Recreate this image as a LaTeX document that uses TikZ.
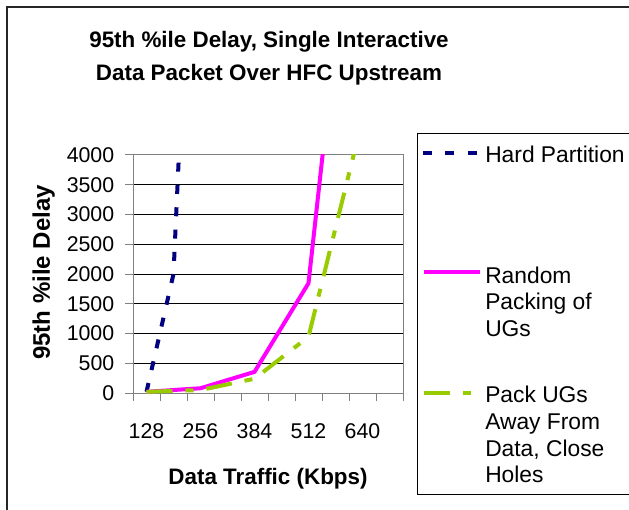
\documentclass[tikz,border=0pt]{standalone}
\usepackage{fontspec}
\setmainfont{Liberation Sans}
\usetikzlibrary{positioning}
\definecolor{hardblue}{RGB}{0,0,128}
\definecolor{randpink}{RGB}{255,0,255}
\definecolor{packgreen}{RGB}{153,204,0}
\definecolor{axisgray}{RGB}{128,128,128}
\tikzset{
  charttitle/.style={font=\bfseries\fontsize{16.8}{24.75}\selectfont,align=center,inner sep=0pt},
  ticklabel/.style={font=\fontsize{16}{19}\selectfont,inner sep=0pt},
  axistitle/.style={font=\bfseries\fontsize{16.8}{20}\selectfont,inner sep=0pt},
  legendtext/.style={font=\fontsize{17.1}{20}\selectfont,align=left,inner sep=0pt},
  gridline/.style={black,line width=0.75pt},
  axisline/.style={axisgray,line width=0.75pt},
  hardline/.style={hardblue,line width=3pt,dash pattern=on 6.75pt off 10pt},
  randline/.style={randpink,line width=3pt},
  packline/.style={packgreen,line width=3pt,dash pattern=on 19.5pt off 9.75pt on 6pt off 9.75pt}
}

\begin{document}
\begin{tikzpicture}[x=0.75pt,y=-0.75pt]
\useasboundingbox (0,0) rectangle (629,510);
\draw[line width=1.2pt,black!85] (7,7) rectangle (660,540);
\node[charttitle,anchor=north] (title) at (269,30.7) {95th \%ile Delay, Single Interactive\\Data Packet Over HFC Upstream};

% grid, frame and ticks (picture pixels)
\foreach \k in {1,...,7}
  \draw[gridline] (133,{393-29.75*\k}) -- (403,{393-29.75*\k});
\draw[axisline] (133,155) rectangle (403,393);
\foreach \k in {0,...,8}
  \draw[axisline] (125,{393-29.75*\k}) -- (133,{393-29.75*\k});
\foreach \c in {0,...,10}
  \draw[axisline] ({133+27*\c},393) -- ({133+27*\c},401);

% tick labels
\foreach \d [count=\k from 0] in {0,500,...,4000}
  \node[ticklabel,anchor=east] (y\d) at (114.5,{393-29.75*\k}) {\d};
\foreach \v [count=\i] in {128,256,384,512,640}
  \node[ticklabel,anchor=north] (x\v) at ({133+27*(2*\i-1.5)},423) {\v};

\node[axistitle,anchor=base] (xtitle) at (268,484) {Data Traffic (Kbps)};
\node[axistitle,font=\bfseries\fontsize{18}{20}\selectfont,rotate=90,anchor=base] (ytitle) at (50,272.5) {95th \%ile Delay};

% data: one unit across per category, delay units up
\begin{scope}[shift={(133,393)},x=20.25pt,y=0.044625pt]
  \clip (0,-500) rectangle (10,4000);
  \draw[hardline] (0.5,20) -- (1.5,2000) -- (2.5,12000);
  \draw[randline] (0.5,20) -- (2.5,80) -- (4.5,355) -- (6.5,1845) -- (8.5,10100);
  \draw[packline] (0.5,20) -- (2.5,50) -- (4.5,240) -- (6.5,945) -- (8.5,4600);
\end{scope}

% legend
\draw[line width=0.75pt] (417,134) rectangle (660,494);
\draw[hardline] (423,152.7) -- (477,152.7);
\draw[randline] (423.5,272) -- (480,272);
\draw[packline] (424,393) -- (472,393);
\node[legendtext,anchor=base west] (lhard) at (485,162) {Hard Partition};
\node[legendtext,anchor=north west] (lrand) at (485,266.5) {Random\\Packing of\\UGs};
\node[legendtext,anchor=north west] (lpack) at (485,386) {Pack UGs\\Away From\\Data, Close\\Holes};
\end{tikzpicture}
\end{document}
